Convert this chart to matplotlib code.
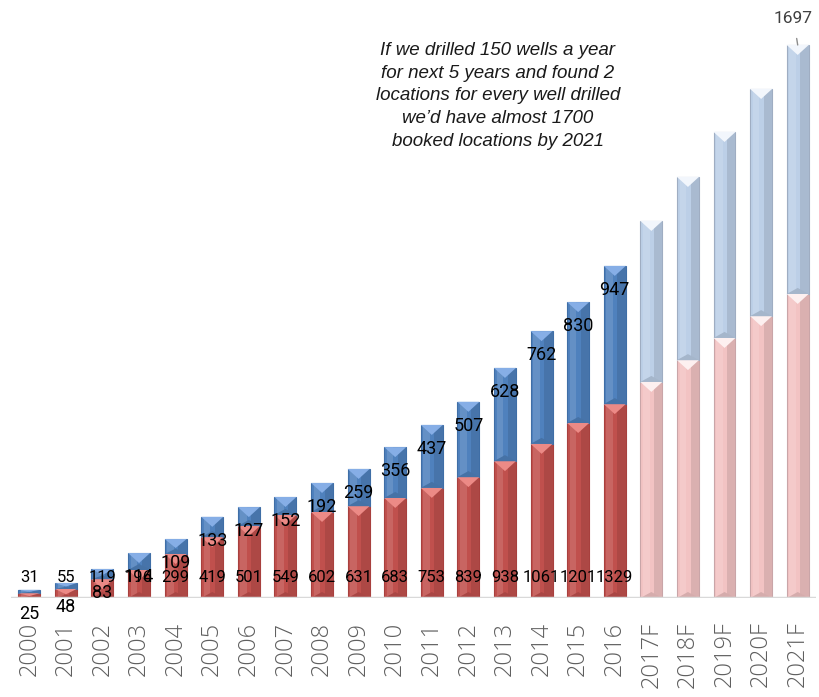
import numpy as np
import matplotlib.pyplot as plt
from matplotlib.patches import Polygon, Rectangle

# Years on the x axis (last five are forecast)
years = ['2000', '2001', '2002', '2003', '2004', '2005', '2006', '2007', '2008',
         '2009', '2010', '2011', '2012', '2013', '2014', '2015', '2016',
         '2017F', '2018F', '2019F', '2020F', '2021F']
n_actual = 17

# Segment heights
red_vals = [15, 28, 58, 86, 135, 187, 221, 255, 264, 282, 307, 338, 371, 420,
            473, 537, 595, 663, 730, 798, 865, 933]
blue_vals = [10, 18, 31, 52, 46, 62, 58, 55, 89, 114, 156, 193, 231, 286,
             346, 371, 424, 494, 562, 632, 697, 764]

# Data labels as they appear on the chart
base_labels = ['31', '55', '119', '196', '299', '419', '501', '549', '602', '631',
               '683', '753', '839', '938', '1061', '1201', '1329']
top_labels = ['25', '48', '83', '114', '109', '133', '127', '152', '192', '259',
              '356', '437', '507', '628', '762', '830', '947']
last_total = '1697'

note = ("If we drilled 150 wells a year\nfor next 5 years and found 2\n"
        "locations for every well drilled\nwe\u2019d have almost 1700\n"
        "booked locations by 2021")

W, H = 820, 697
fig = plt.figure(figsize=(W / 100, H / 100), dpi=100)
ax = fig.add_axes([11 / W, 99 / H, 805 / W, 598 / H])
ymax = 1835
ax.set_xlim(-0.5, len(years) - 0.5)
ax.set_ylim(0, ymax)

x = np.arange(len(years))
bw = 0.6
px_per_unit = 598 / ymax


def shade(hexcol, f):
    c = np.array(plt.matplotlib.colors.to_rgb(hexcol))
    if f > 0:
        c = c + (1 - c) * f
    else:
        c = c * (1 + f)
    return tuple(np.clip(c, 0, 1))


def bevel_bar(xc, bottom, height, base, tri, edge):
    left = xc - bw / 2
    ax.add_patch(Rectangle((left, bottom), bw, height, facecolor=base,
                           edgecolor=edge, linewidth=0.8, zorder=2))
    # lighter left band, darker right band
    ax.add_patch(Rectangle((left + bw * 0.12, bottom), bw * 0.3, height,
                           facecolor=shade(base, 0.12), linewidth=0, zorder=2))
    ax.add_patch(Rectangle((left + bw * 0.62, bottom), bw * 0.38, height,
                           facecolor=shade(base, -0.1), linewidth=0, zorder=2))
    cap = min(10 / px_per_unit, height * 0.6)
    top = bottom + height
    ax.add_patch(Polygon([(left, top), (left + bw, top), (xc, top - cap)],
                         closed=True, facecolor=tri, linewidth=0, zorder=3))
    ax.add_patch(Polygon([(left, bottom), (left + bw, bottom), (xc, bottom + cap * 0.6)],
                         closed=True, facecolor=shade(base, -0.12), linewidth=0, zorder=3))


for i in range(len(years)):
    if i < n_actual:
        red_c, red_t, blue_c, blue_t = '#c0504d', '#ec8a86', '#4f81bd', '#86aee6'
        edge_r, edge_b = '#a8403e', '#3f6ea6'
    else:
        red_c, red_t, blue_c, blue_t = '#f2c3c3', '#fdf0f0', '#bccfe7', '#f2f6fc'
        edge_r, edge_b = '#c9a5a8', '#9fadc2'
    bevel_bar(x[i], 0, red_vals[i], red_c, red_t, edge_r)
    bevel_bar(x[i], red_vals[i], blue_vals[i], blue_c, blue_t, edge_b)

# baseline
ax.axhline(0, color='#d9d9d9', linewidth=2.5, zorder=4)

lab_font = dict(family='Roboto', color='black', ha='center', va='center', zorder=5)
for i in range(n_actual):
    ax.annotate(base_labels[i], (x[i], 0), xytext=(0, 14.5), textcoords='offset points',
                fontsize=12, **lab_font)
    total = red_vals[i] + blue_vals[i]
    ax.annotate(top_labels[i], (x[i], total), xytext=(0, -17.5), textcoords='offset points',
                fontsize=13, **lab_font)

last = len(years) - 1
ax.annotate(last_total, (x[last], red_vals[last] + blue_vals[last]), xytext=(-3, 19),
            textcoords='offset points', fontsize=12.5, family='Roboto', color='#404040',
            ha='center', va='center',
            arrowprops=dict(arrowstyle='-', color='#8c8c8c', lw=1, shrinkA=7, shrinkB=0))

fig.text(498 / W, 1 - 96 / H, note, ha='center', va='center', fontsize=13.5,
         style='italic', family='Liberation Sans', color='#1a1a1a', linespacing=1.45)

ax.set_xticks(x)
ax.set_xticklabels(years, rotation=90, va='top', ha='center', fontsize=17,
                   family='Open Sans', fontweight='light', color='#5f5f5f')
ax.tick_params(axis='x', length=0, pad=17)
ax.set_yticks([])
for s in ax.spines.values():
    s.set_visible(False)
ax.patch.set_alpha(0)

fig.savefig('out.png', dpi=100)
